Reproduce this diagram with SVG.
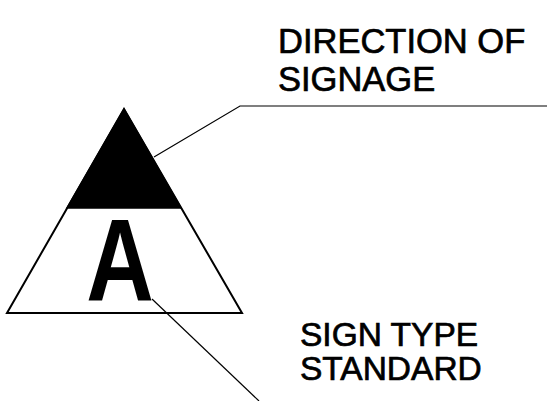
<svg xmlns="http://www.w3.org/2000/svg" width="555" height="401" viewBox="0 0 555 401">
<style>
.lbl{font-family:"Liberation Sans",Arial,sans-serif;fill:#000;stroke:#000;stroke-width:0.7}
.ld{stroke:#000;stroke-width:1.2;fill:none}
</style>
<rect width="555" height="401" fill="#fff"/>
<g id="sign">
<polygon points="124,109 7,313 242,313" fill="#fff" stroke="#000" stroke-width="2"/>
<polygon points="124,109 67,208 181,208" fill="#000" stroke="#000" stroke-width="1.5"/>
<text transform="translate(120,301) scale(0.8,1)" text-anchor="middle" font-family="Liberation Sans,Arial,sans-serif" font-weight="bold" font-size="117">A</text>
</g>
<g id="connectors">
<polyline class="ld" points="154,157 240,106 547,106"/>
<line class="ld" x1="152" y1="299" x2="259" y2="401"/>
</g>
<g id="label-direction">
<text class="lbl" x="278" y="53" font-size="34.5">DIRECTION OF</text>
<text class="lbl" x="278" y="91" font-size="34.5">SIGNAGE</text>
</g>
<g id="label-type">
<text class="lbl" x="300" y="346" font-size="33.5">SIGN TYPE</text>
<text class="lbl" x="300" y="380" font-size="33.5">STANDARD</text>
</g>
</svg>
